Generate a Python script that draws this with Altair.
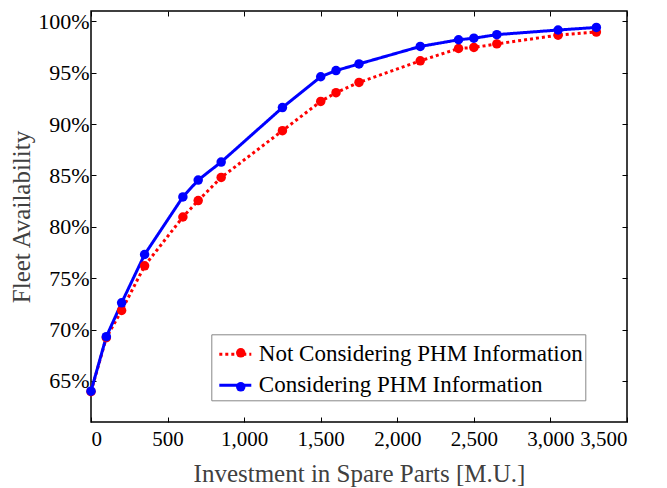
import altair as alt
import pandas as pd

# Spare-parts investment levels [M.U.]
investment = [0, 100, 200, 350, 600, 700, 850, 1250, 1500, 1600, 1750,
              2150, 2400, 2500, 2650, 3050, 3300]
# Fleet availability [%] for each strategy
avail_without_phm = [63.95, 69.2, 71.85, 76.2, 80.95, 82.55, 84.8, 89.35, 92.2,
                     93.05, 94.05, 96.15, 97.35, 97.45, 97.8, 98.65, 98.95]
avail_with_phm = [64.0, 69.3, 72.6, 77.3, 82.9, 84.55, 86.3, 91.6, 94.6,
                  95.2, 95.85, 97.55, 98.2, 98.35, 98.7, 99.15, 99.4]

series_names = ["Not Considering PHM Information", "Considering PHM Information"]
series_colors = ["#ff0000", "#0000ff"]

x_ticks = [0, 500, 1000, 1500, 2000, 2500, 3000, 3500]
y_ticks = [65, 70, 75, 80, 85, 90, 95, 100]

rows = []
for name, vals in zip(series_names, [avail_without_phm, avail_with_phm]):
    for xv, yv in zip(investment, vals):
        rows.append({"investment": xv, "availability": yv, "series": name})
df = pd.DataFrame(rows)

FONT = "Liberation Serif"
x_scale = alt.Scale(domain=[0, 3500], nice=False, zero=False)
y_scale = alt.Scale(domain=[61, 101], nice=False, zero=False)

axis_common = dict(domain=False, grid=False, tickSize=5, offset=-5,
                   tickColor="black", tickWidth=1, labelOverlap=False,
                   labelFont=FONT, labelColor="black",
                   titleFont=FONT, titleFontSize=25, titleColor="#404040",
                   titleFontWeight="normal")

legend_common = dict(orient="none", title=None, labelFont=FONT, labelFontSize=23,
                     labelColor="black", labelLimit=500)

# line legend: draws the dashed/solid strokes, the labels and the box
line_legend = alt.Legend(legendX=120.3, legendY=323.3, symbolType="stroke",
                         symbolSize=1024, symbolStrokeWidth=3, symbolOffset=4,
                         labelOffset=6, rowPadding=1, padding=2.5,
                         labelExpr="datum.label + '   '",
                         strokeColor="#888888", **legend_common)

lines = alt.Chart(df).mark_line(strokeWidth=3, strokeCap="butt").encode(
    x=alt.X("investment:Q", scale=x_scale,
            axis=alt.Axis(orient="bottom", values=x_ticks,
                          labelExpr="format(datum.value, ',')", labelFontSize=21,
                          labelPadding=6, titlePadding=12,
                          title="Investment in Spare Parts [M.U.]", **axis_common)),
    y=alt.Y("availability:Q", scale=y_scale,
            axis=alt.Axis(orient="left", values=y_ticks, labelFontSize=22,
                          labelExpr="datum.value + '%'", labelPadding=2,
                          titlePadding=3, title="Fleet Availability", **axis_common)),
    color=alt.Color("series:N",
                    scale=alt.Scale(domain=series_names, range=series_colors),
                    legend=line_legend),
    strokeDash=alt.StrokeDash("series:N",
                              scale=alt.Scale(domain=series_names,
                                              range=[[3, 3], [1, 0]]),
                              legend=line_legend),
    detail="series:N",
)

# marker legend: only the filled circles, overlaid on the line legend
points = alt.Chart(df).mark_circle(size=90, opacity=1).encode(
    x=alt.X("investment:Q", scale=x_scale,
            axis=alt.Axis(orient="top", values=x_ticks, labels=False, title=None,
                          **axis_common)),
    y=alt.Y("availability:Q", scale=y_scale,
            axis=alt.Axis(orient="right", values=y_ticks, labels=False, title=None,
                          **axis_common)),
    fill=alt.Fill("series:N",
                  scale=alt.Scale(domain=series_names, range=series_colors),
                  legend=alt.Legend(legendX=138.25, legendY=330.3,
                                    symbolType="circle", symbolSize=90,
                                    symbolStrokeWidth=0, labelOpacity=0,
                                    labelOffset=6, rowPadding=10, padding=0,
                                    **legend_common)),
)

chart = alt.layer(lines, points).resolve_axis(
    x="independent", y="independent"
).resolve_legend(fill="independent").properties(
    width=536, height=411,
    autosize=alt.AutoSizeParams(type="none"),
    padding={"left": 91, "top": 11, "right": 40, "bottom": 66},
    background="white",
).configure_view(stroke="black", strokeWidth=1.5
).configure_axis(labelFont=FONT, titleFont=FONT
).configure_legend(labelFont=FONT)

chart.save("out.html", embed_options={"renderer": "svg", "actions": False})
